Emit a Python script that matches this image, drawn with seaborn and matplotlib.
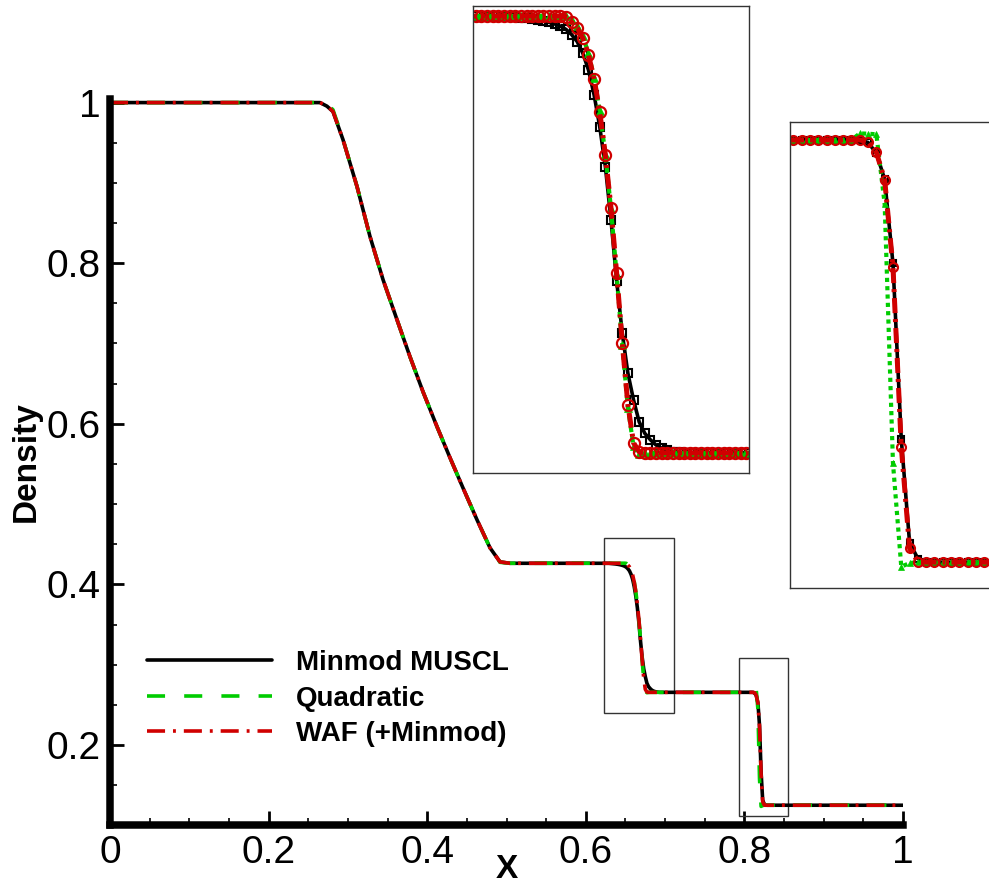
import numpy as np
import pandas as pd
import matplotlib
matplotlib.use("Agg")
import matplotlib.pyplot as plt
import seaborn as sns
from matplotlib.patches import Rectangle
from matplotlib.ticker import MultipleLocator, FuncFormatter

sns.set_theme(style="white")
plt.rcParams['font.family'] = ['Liberation Sans', 'DejaVu Sans']
plt.rcParams['text.color'] = 'black'
plt.rcParams['axes.labelcolor'] = 'black'
plt.rcParams['xtick.color'] = 'black'
plt.rcParams['ytick.color'] = 'black'

# ---------------- data ----------------
series_names = ["Minmod MUSCL", "Quadratic", "WAF (+Minmod)"]

# rarefaction part (sparse read-out of the smooth curve)
x_rare = [0.0, 0.2648, 0.2736, 0.2812, 0.2938, 0.3115, 0.3279, 0.3443, 0.3619,
          0.3783, 0.3947, 0.4124, 0.4288, 0.4451, 0.4628, 0.4792, 0.4918, 0.5044]
y_rare_minmod = [1.0, 1.0, 0.9955, 0.9888, 0.9539, 0.8954, 0.8331, 0.7795, 0.7296,
                 0.6835, 0.6399, 0.5963, 0.5576, 0.5202, 0.4804, 0.4455, 0.4280, 0.4263]
y_rare_quad = [1.0, 1.0, 0.9985, 0.9910, 0.9545, 0.8954, 0.8331, 0.7795, 0.7296,
               0.6835, 0.6399, 0.5963, 0.5576, 0.5202, 0.4804, 0.4455, 0.4275, 0.4263]
y_rare_waf = [1.0, 1.0, 0.9960, 0.9890, 0.9539, 0.8954, 0.8331, 0.7795, 0.7296,
              0.6835, 0.6399, 0.5963, 0.5576, 0.5202, 0.4804, 0.4455, 0.4280, 0.4263]

# contact discontinuity: cell centres
x_contact = [0.619, 0.621, 0.623, 0.625, 0.627, 0.629, 0.631, 0.633, 0.635, 0.637,
             0.639, 0.641, 0.643, 0.645, 0.647, 0.649, 0.651, 0.653, 0.655, 0.657,
             0.659, 0.661, 0.663, 0.665, 0.667, 0.669, 0.671, 0.673, 0.675, 0.677,
             0.679, 0.681, 0.683, 0.685, 0.687, 0.689, 0.691, 0.693, 0.695, 0.697,
             0.699, 0.701, 0.703, 0.705, 0.707, 0.709, 0.711, 0.713, 0.715]
y_contact_minmod = [0.4263, 0.4263, 0.4263, 0.4263, 0.4263, 0.4263, 0.4261, 0.4259, 0.4257, 0.4255,
                    0.4252, 0.4249, 0.4245, 0.4240, 0.4234, 0.4226, 0.4214, 0.4195, 0.4169, 0.4126,
                    0.4065, 0.3973, 0.3856, 0.3709, 0.3513, 0.3290, 0.3096, 0.2949, 0.2851, 0.2770,
                    0.2728, 0.2704, 0.2685, 0.2673, 0.2666, 0.2661, 0.2658, 0.2656, 0.2656, 0.2656,
                    0.2656, 0.2656, 0.2656, 0.2656, 0.2656, 0.2656, 0.2656, 0.2656, 0.2656]
y_contact_quad = [0.4264, 0.4264, 0.4264, 0.4264, 0.4264, 0.4264, 0.4264, 0.4264, 0.4264, 0.4264,
                  0.4264, 0.4264, 0.4264, 0.4264, 0.4264, 0.4264, 0.4262, 0.4247, 0.4226, 0.4189,
                  0.4126, 0.4036, 0.3914, 0.3754, 0.3554, 0.3312, 0.3052, 0.2822, 0.2680, 0.2651,
                  0.2655, 0.2656, 0.2656, 0.2656, 0.2656, 0.2656, 0.2656, 0.2656, 0.2656, 0.2656,
                  0.2656, 0.2656, 0.2656, 0.2656, 0.2656, 0.2656, 0.2656, 0.2656, 0.2656]
y_contact_waf = [0.4263, 0.4263, 0.4263, 0.4263, 0.4263, 0.4263, 0.4263, 0.4263, 0.4263, 0.4263,
                 0.4263, 0.4263, 0.4263, 0.4263, 0.4263, 0.4263, 0.4260, 0.4241, 0.4219, 0.4182,
                 0.4120, 0.4032, 0.3910, 0.3752, 0.3557, 0.3318, 0.3061, 0.2833, 0.2693, 0.2660,
                 0.2656, 0.2656, 0.2656, 0.2656, 0.2656, 0.2656, 0.2656, 0.2656, 0.2656, 0.2656,
                 0.2656, 0.2656, 0.2656, 0.2656, 0.2656, 0.2656, 0.2656, 0.2656, 0.2656]

# shock: cell centres
x_shock = [0.795, 0.797, 0.799, 0.801, 0.803, 0.805, 0.807, 0.809, 0.811, 0.813,
           0.815, 0.817, 0.819, 0.821, 0.823, 0.825, 0.827, 0.829, 0.831, 0.833,
           0.835, 0.837, 0.839, 0.841, 0.843, 0.845, 0.847, 0.849, 0.851, 0.853,
           0.855, 0.857]
y_shock_minmod = [0.2656, 0.2656, 0.2656, 0.2656, 0.2656, 0.2656, 0.2656, 0.2656, 0.2655, 0.2648,
                  0.2612, 0.2525, 0.2245, 0.1660, 0.1315, 0.1262, 0.1252, 0.1250, 0.1250, 0.1250,
                  0.1250, 0.1250, 0.1250, 0.1250, 0.1250, 0.1250, 0.1250, 0.1250, 0.1250, 0.1250,
                  0.1250, 0.1250]
y_shock_quad = [0.2656, 0.2656, 0.2656, 0.2656, 0.2656, 0.2656, 0.2656, 0.2656, 0.2678, 0.2677,
                0.2675, 0.2443, 0.1580, 0.1235, 0.1247, 0.1250, 0.1250, 0.1250, 0.1250, 0.1250,
                0.1250, 0.1250, 0.1250, 0.1250, 0.1250, 0.1250, 0.1250, 0.1250, 0.1250, 0.1250,
                0.1250, 0.1250]
y_shock_waf = [0.2656, 0.2656, 0.2656, 0.2656, 0.2656, 0.2656, 0.2656, 0.2656, 0.2656, 0.2650,
               0.2615, 0.2523, 0.2234, 0.1635, 0.1296, 0.1252, 0.1250, 0.1250, 0.1250, 0.1250,
               0.1250, 0.1250, 0.1250, 0.1250, 0.1250, 0.1250, 0.1250, 0.1250, 0.1250, 0.1250,
               0.1250, 0.1250]

x_end = [1.0]
y_end = [0.125]

x_ticks = [0, 0.2, 0.4, 0.6, 0.8, 1.0]
y_ticks = [0.2, 0.4, 0.6, 0.8, 1.0]

# zoom windows drawn in the main plot and the inset ranges
zoom1_x = [0.623, 0.711]
zoom1_y = [0.2398, 0.4578]
zoom2_x = [0.793, 0.855]
zoom2_y = [0.1116, 0.3083]
inset1_xlim = [0.618, 0.716]
inset1_ylim = [0.2582, 0.4300]
inset2_xlim = [0.7942, 0.8561]
inset2_ylim = [0.1164, 0.2716]

# ---------------- build tables ----------------
x_all = x_rare + x_contact + x_shock + x_end
frames = []
for name, yr, yc, ys in [
        (series_names[0], y_rare_minmod, y_contact_minmod, y_shock_minmod),
        (series_names[1], y_rare_quad, y_contact_quad, y_shock_quad),
        (series_names[2], y_rare_waf, y_contact_waf, y_shock_waf)]:
    frames.append(pd.DataFrame({"x": x_all, "Density": yr + yc + ys + y_end, "scheme": name}))
df = pd.concat(frames, ignore_index=True)

colors = {series_names[0]: "#000000", series_names[1]: "#00cc00", series_names[2]: "#d00000"}
main_styles = {series_names[0]: "-",
               series_names[1]: (0, (5.0, 5.3)),
               series_names[2]: (0, (5.0, 2.2, 0.8, 2.2))}

fig = plt.figure(figsize=(9.89, 8.88), dpi=100)
ax = fig.add_axes([0.1112, 0.0706, 0.8019, 0.8184])

for name in series_names:
    sub = df[df.scheme == name]
    sns.lineplot(data=sub, x="x", y="Density", ax=ax, color=colors[name],
                 linestyle=main_styles[name], lw=2.6, estimator=None, sort=False,
                 label=name, legend=False)

for zx, zy in [(zoom1_x, zoom1_y), (zoom2_x, zoom2_y)]:
    ax.add_patch(Rectangle((zx[0], zy[0]), zx[1] - zx[0], zy[1] - zy[0],
                           fill=False, edgecolor="#333333", lw=1.0, zorder=1))

ax.set_xlim(0, 1)
ax.set_ylim(0.1, 1.005)
ax.set_xticks(x_ticks)
ax.set_yticks(y_ticks)
ax.xaxis.set_minor_locator(MultipleLocator(0.05))
ax.yaxis.set_minor_locator(MultipleLocator(0.05))
fmt = FuncFormatter(lambda v, p: "%g" % round(v, 3))
ax.xaxis.set_major_formatter(fmt)
ax.yaxis.set_major_formatter(fmt)
for s in ["top", "right"]:
    ax.spines[s].set_visible(False)
for s in ["left", "bottom"]:
    ax.spines[s].set_linewidth(5.4)
    ax.spines[s].set_color("black")
ax.tick_params(which="both", direction="in", bottom=True, left=True, top=False, right=False,
               colors="black", labelcolor="black")
ax.tick_params(which="major", length=10, width=2.0, labelsize=28, pad=7)
ax.tick_params(which="minor", length=5, width=1.2)
ax.set_xlabel("X", fontsize=24, fontweight="bold", labelpad=-12, color="black")
ax.set_ylabel("Density", fontsize=24, fontweight="bold", labelpad=3, color="black")
ax.set_facecolor("white")
ax.grid(False)

leg = ax.legend(loc="upper left", bbox_to_anchor=(0.0467, 0.241), frameon=False,
                prop=dict(weight="bold", size=20), handlelength=4.5, handletextpad=0.86,
                labelspacing=0.34, borderpad=0, borderaxespad=0, labelcolor="black")

# ---------------- insets ----------------
def make_inset(rect, xlim, ylim, green_ls, ms_scale):
    ia = fig.add_axes(rect)
    specs = {
        series_names[0]: dict(linestyle="-", lw=2.6, marker="s", markersize=6 * ms_scale,
                              markerfacecolor="none", markeredgecolor="#000000", markeredgewidth=1.5),
        series_names[1]: dict(linestyle=green_ls, lw=3.0, marker="^", markersize=6 * ms_scale,
                              markerfacecolor="#00cc00", markeredgecolor="#00cc00", markeredgewidth=0.5),
        series_names[2]: dict(linestyle=(0, (3.0, 1.2, 0.6, 1.2)), lw=3.6, marker="o",
                              markersize=8 * ms_scale, markerfacecolor="none",
                              markeredgecolor="#d00000", markeredgewidth=1.6),
    }
    for name in series_names:
        sub = df[(df.scheme == name)]
        sns.lineplot(data=sub, x="x", y="Density", ax=ia, color=colors[name],
                     estimator=None, sort=False, legend=False, **specs[name])
    ia.set_xlim(*xlim)
    ia.set_ylim(*ylim)
    ia.set_xticks([])
    ia.set_yticks([])
    ia.set_xlabel("")
    ia.set_ylabel("")
    ia.set_facecolor("white")
    for s in ia.spines.values():
        s.set_visible(True)
        s.set_linewidth(1.0)
        s.set_color("#333333")
    return ia

make_inset([473 / 989, 1 - 473 / 888, 276 / 989, 467 / 888], inset1_xlim, inset1_ylim,
           (0, (1.5, 1.0)), 1.0)
make_inset([790 / 989, 1 - 588 / 888, 257 / 989, 466 / 888], inset2_xlim, inset2_ylim,
           (0, (1.0, 1.0)), 0.8)

fig.savefig("out.png", dpi=100)
